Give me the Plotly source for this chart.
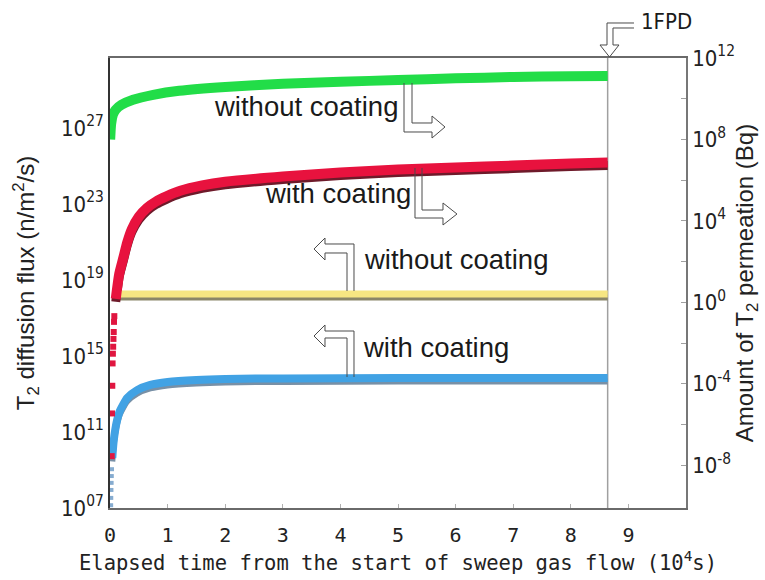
import plotly.graph_objects as go

# Elapsed time is in units of 10^4 s; one full-power day (1 FPD) = 86 400 s
ONE_FPD = 8.64

# Amount of T2 permeation (Bq) -- right axis
green_t = [0.003, 0.02, 0.05, 0.1, 0.2, 0.4, 0.75, 1.2, 2.0, 3.0, 4.0, 5.0, 6.0, 7.0, 8.0, 8.64]
green_bq = [9.8e7, 5.9e8, 1.6e9, 2.9e9, 5.0e9, 8.9e9, 1.55e10, 2.45e10, 3.8e10, 5.4e10,
            6.8e10, 8.3e10, 1.0e11, 1.17e11, 1.26e11, 1.32e11]

red_t = [0.10, 0.16, 0.23, 0.30, 0.38, 0.50, 0.64, 0.80, 0.98, 1.22, 1.6, 2.0, 3.0, 4.0, 5.0,
         6.0, 7.0, 8.0, 8.64]
red_bq = [1.5, 25, 150, 900, 4.0e3, 1.6e4, 4.3e4, 9.0e4, 1.6e5, 3.0e5, 5.5e5, 8.3e5, 1.5e6,
          2.4e6, 3.3e6, 4.2e6, 5.2e6, 6.6e6, 7.4e6]
red_early_t = [0.03, 0.035, 0.04, 0.045, 0.05, 0.055, 0.06, 0.065, 0.07, 0.075]
red_early_bq = [2.8e-8, 3.5e-6, 8e-5, 1e-3, 3e-3, 6.6e-3, 1.6e-2, 3.5e-2, 1.1e-1, 2.1e-1]

# T2 diffusion flux (n/m^2/s) -- left axis
yellow_t = [0.08, 8.64]
yellow_flux = [1.8e18, 1.8e18]

blue_t = [0.04, 0.06, 0.09, 0.12, 0.17, 0.3, 0.47, 0.7, 1.0, 1.5, 2.0, 3.0, 5.0, 8.64]
blue_flux = [4.3e9, 2.6e10, 1.26e11, 3.8e11, 1.26e12, 6.2e12, 1.6e13, 3.0e13, 4.3e13,
             5.5e13, 6.2e13, 6.6e13, 6.9e13, 6.9e13]
blue_early_t = [0.02, 0.022, 0.025, 0.028, 0.031, 0.035]
blue_early_flux = [1.4e7, 3.4e7, 8.9e7, 2.1e8, 4.8e8, 1.1e9]

# Axis ticks
x_ticks = list(range(10))
left_tickvals = [1e7, 1e11, 1e15, 1e19, 1e23, 1e27]
left_ticktext = ["10<sup>07</sup>", "10<sup>11</sup>", "10<sup>15</sup>",
                 "10<sup>19</sup>", "10<sup>23</sup>", "10<sup>27</sup>"]
right_tickvals = [1e-8, 1e-4, 1e0, 1e4, 1e8, 1e12]
right_ticktext = ["10<sup>-8</sup>", "10<sup>-4</sup>", "10<sup>0</sup>",
                  "10<sup>4</sup>", "10<sup>8</sup>", "10<sup>12</sup>"]
right_minor = [1e-6, 1e-2, 1e2, 1e6, 1e10]

LEFT_RANGE = [7, 30.68]
RIGHT_RANGE = [-10.1, 12]

# plot-area geometry in pixels (for placing labels / outline arrows)
W, H = 765, 580
L_PX, R_PX, T_PX, B_PX = 110, 686, 58, 508


def px(x, y):
    return (x - L_PX) / (R_PX - L_PX), (B_PX - y) / (B_PX - T_PX)


def path(points):
    segs = []
    for i, (x, y) in enumerate(points):
        fx, fy = px(x, y)
        segs.append(("M" if i == 0 else "L") + f"{fx:.5f},{fy:.5f}")
    return " ".join(segs)


# drop-shadow offsets (px) used for the dark under-edge of the thick lines
SH_L = 3.5 / ((B_PX - T_PX) / (LEFT_RANGE[1] - LEFT_RANGE[0]))
SH_R = 3 / ((B_PX - T_PX) / (RIGHT_RANGE[1] - RIGHT_RANGE[0]))

fig = go.Figure()

# shadows (drawn first, on hidden shifted axes)
fig.add_trace(go.Scatter(x=yellow_t, y=yellow_flux, mode="lines", yaxis="y",
                         line=dict(color="#8a8668", width=6), hoverinfo="skip"))
fig.add_trace(go.Scatter(x=blue_t, y=blue_flux, mode="lines", yaxis="y",
                         line=dict(color="#7890a6", width=6, shape="spline", smoothing=0.6),
                         hoverinfo="skip"))
fig.add_trace(go.Scatter(x=red_t, y=red_bq, mode="lines", yaxis="y2",
                         line=dict(color="#6e1a2a", width=9, shape="spline", smoothing=0.6),
                         hoverinfo="skip"))

# flux curves (left axis)
fig.add_trace(go.Scatter(x=yellow_t, y=yellow_flux, mode="lines", yaxis="y3",
                         line=dict(color="#f6e682", width=7), name="flux without coating"))
fig.add_trace(go.Scatter(x=blue_early_t, y=blue_early_flux, mode="markers", yaxis="y3",
                         marker=dict(color="#86acd0", size=4, symbol="square"), hoverinfo="skip"))
fig.add_trace(go.Scatter(x=blue_t, y=blue_flux, mode="lines", yaxis="y3",
                         line=dict(color="#41a2e4", width=8, shape="spline", smoothing=0.6),
                         name="flux with coating"))

# permeation amount curves (right axis)
fig.add_trace(go.Scatter(x=green_t, y=green_bq, mode="lines", yaxis="y4",
                         line=dict(color="#22dd48", width=10, shape="spline", smoothing=0.6),
                         name="amount without coating"))
fig.add_trace(go.Scatter(x=red_t, y=red_bq, mode="lines", yaxis="y4",
                         line=dict(color="#e8123e", width=10, shape="spline", smoothing=0.6),
                         name="amount with coating"))
fig.add_trace(go.Scatter(x=red_early_t, y=red_early_bq, mode="markers", yaxis="y4",
                         marker=dict(color="#e01640", size=6, symbol="square"), hoverinfo="skip"))

narrow = "DejaVu Sans Condensed, Liberation Sans Narrow, Liberation Sans, sans-serif"
tick_font = dict(family=narrow, size=22, color="#222")
title_font = dict(family="Liberation Sans, Arial, sans-serif", size=24, color="#222")

fig.update_layout(
    width=W, height=H,
    margin=dict(l=L_PX, r=W - R_PX, t=T_PX, b=H - B_PX),
    paper_bgcolor="white", plot_bgcolor="white", showlegend=False,
    xaxis=dict(range=[0, 10], tickvals=x_ticks, ticktext=[str(v) for v in x_ticks],
               ticks="inside", ticklen=4, tickcolor="#b0b0b0", automargin=False,
               showline=True, linecolor="#6a6a6a", linewidth=1.5, mirror=True,
               showgrid=False, zeroline=False, ticklabelstandoff=8,
               tickfont=dict(family="DejaVu Sans Mono, monospace", size=20, color="#222"),
               title=dict(text="Elapsed time from the start of sweep gas flow (10<sup>4</sup>s)",
                          font=dict(family="DejaVu Sans Mono, monospace", size=20.5, color="#222"),
                          standoff=10)),
    yaxis=dict(type="log", range=[LEFT_RANGE[0] + SH_L, LEFT_RANGE[1] + SH_L], visible=False,
               automargin=False),
    yaxis2=dict(type="log", range=[RIGHT_RANGE[0] + SH_R, RIGHT_RANGE[1] + SH_R],
                overlaying="y", visible=False, automargin=False),
    yaxis3=dict(type="log", range=LEFT_RANGE, overlaying="y", side="left", automargin=False,
                tickvals=left_tickvals, ticktext=left_ticktext, ticks="",
                showline=True, linecolor="#333", linewidth=1.5, showgrid=False, zeroline=False,
                tickfont=tick_font,
                title=dict(text="T<sub>2</sub> diffusion flux (n/m<sup>2</sup>/s)",
                           font=title_font, standoff=20)),
    yaxis4=dict(type="log", range=RIGHT_RANGE, overlaying="y", side="right", automargin=False,
                tickvals=right_tickvals, ticktext=right_ticktext,
                ticks="inside", ticklen=5, tickcolor="#a0a0a0",
                minor=dict(tickvals=right_minor, ticks="inside", ticklen=5, tickcolor="#a0a0a0"),
                showline=True, linecolor="#777", linewidth=1.5, showgrid=False, zeroline=False,
                tickfont=tick_font,
                title=dict(text="Amount of T<sub>2</sub> permeation (Bq)",
                           font=title_font, standoff=2)),
)

# 1 FPD marker line
fig.add_shape(type="line", xref="x", yref="paper", x0=ONE_FPD, x1=ONE_FPD, y0=0, y1=1,
              line=dict(color="#a0a0a0", width=1.5), layer="below")

# hollow bent arrows
arrow_line = dict(color="#4a4a4a", width=1)
arrows = [
    [(404, 83), (404, 132), (432, 132), (432, 138), (445, 127), (432, 116), (432, 123), (412, 123), (412, 83)],
    [(415, 168), (415, 218), (443, 218), (443, 225), (457, 214), (443, 203), (443, 210), (422, 210), (422, 168)],
    [(347, 291), (347, 253), (325, 253), (325, 260), (314, 249), (325, 238), (325, 244), (354, 244), (354, 291)],
    [(347, 377), (347, 338), (325, 338), (325, 347), (314, 336), (325, 325), (325, 331), (354, 331), (354, 377)],
    [(634, 23), (607, 23), (607, 45), (600, 45), (609.5, 57), (619, 45), (613, 45), (613, 28), (634, 28)],
]
for pts in arrows:
    fig.add_shape(type="path", xref="paper", yref="paper", path=path(pts), line=arrow_line)

label_font = dict(family="Liberation Sans, Arial, sans-serif", size=27.5, color="#1a1a1a")
labels = [
    ("without coating", 306, 106),
    ("with coating", 338, 194),
    ("without coating", 456, 259),
    ("with coating", 436, 347),
]
for text, lx, ly in labels:
    ax_, ay_ = px(lx, ly)
    fig.add_annotation(text=text, x=ax_, y=ay_, xref="paper", yref="paper",
                       showarrow=False, font=label_font, xanchor="center", yanchor="middle")

fx, fy = px(639, 22)
fig.add_annotation(text="1FPD", x=fx, y=fy, xref="paper", yref="paper", showarrow=False,
                   font=dict(family=narrow, size=22, color="#1a1a1a"),
                   xanchor="left", yanchor="middle")

fig.write_html("out.html")
